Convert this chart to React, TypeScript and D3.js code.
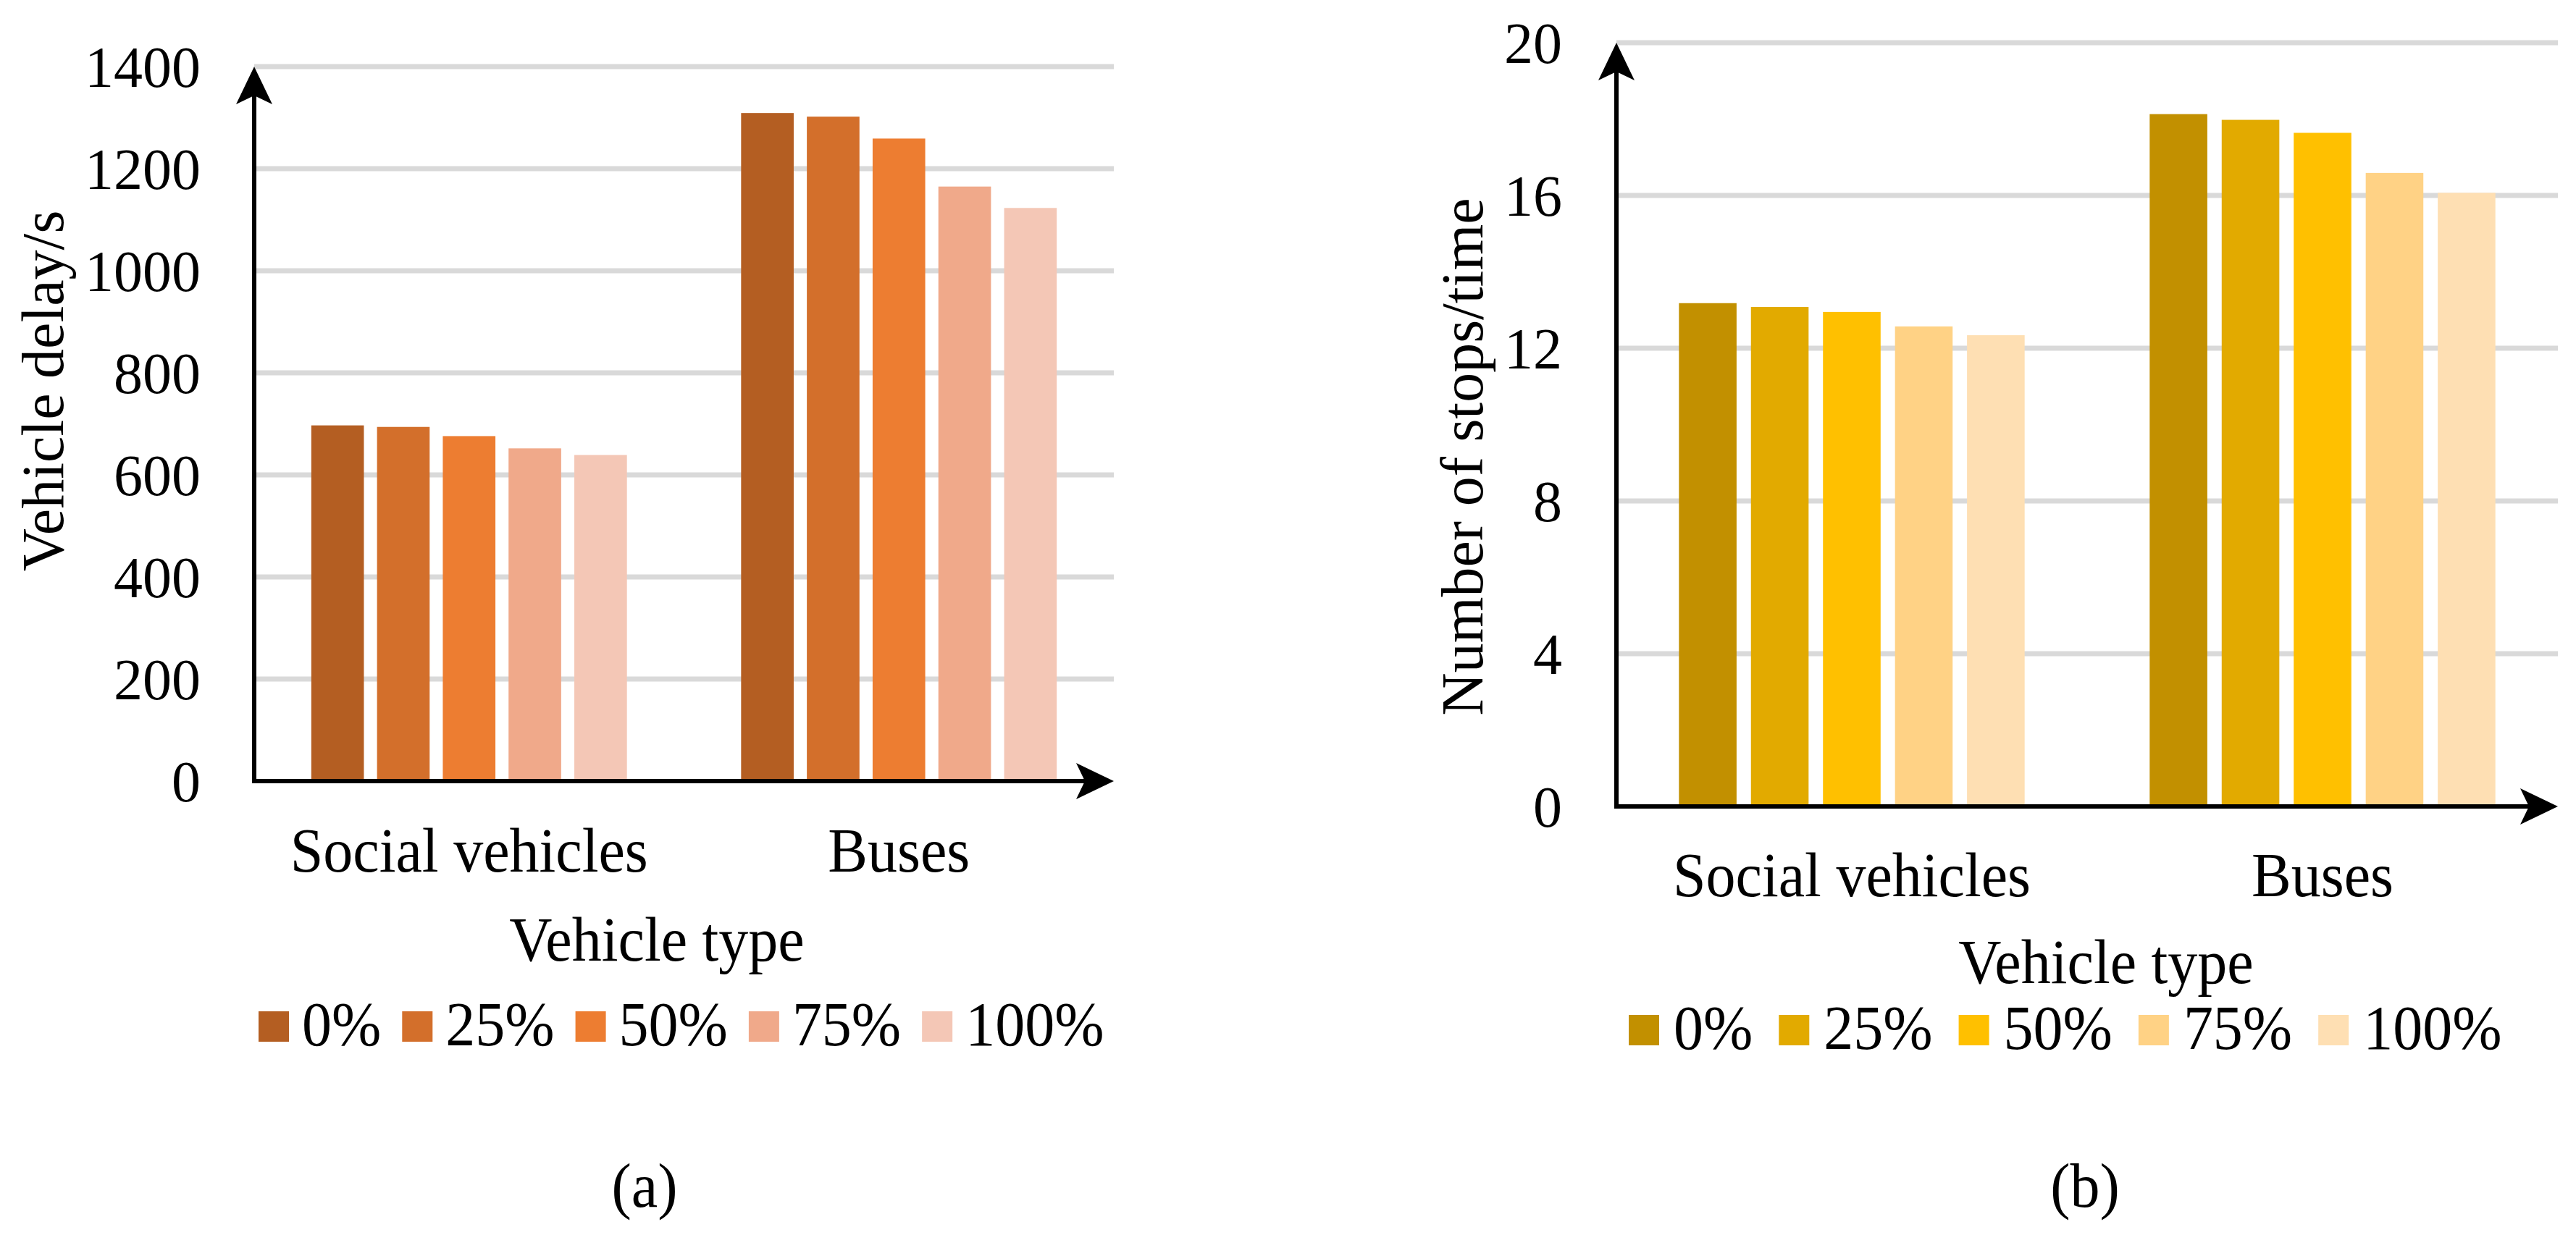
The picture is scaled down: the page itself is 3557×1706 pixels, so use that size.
import React, { useEffect, useRef } from 'react';
import * as d3 from 'd3';

const categories = ['Social vehicles', 'Buses'];
const seriesNames = ['0%', '25%', '50%', '75%', '100%'];

// (a) vehicle delay in s, one value per series
const delaySocial = [697, 694, 676, 652, 639];
const delayBuses = [1309, 1302, 1259, 1165, 1123];
const delayTicks = [0, 200, 400, 600, 800, 1000, 1200, 1400];

// (b) number of stops per vehicle
const stopsSocial = [13.18, 13.08, 12.95, 12.57, 12.34];
const stopsBuses = [18.13, 17.98, 17.64, 16.59, 16.07];
const stopsTicks = [0, 4, 8, 12, 16, 20];

const delayColors = ['#B45E22', '#D36F2B', '#ED7D31', '#F0A98A', '#F4C7B6'];
const stopsColors = ['#C29000', '#E2AA00', '#FFC000', '#FFD285', '#FEDFB3'];

const W = 3557;
const H = 1706;
const FONT = '"Liberation Serif", "Times New Roman", serif';
const FS = 82;
const TICK_FS = 80;
const STRETCH = 1.05; // the source text is a little taller than wide
const GAP = 2.17; // excel-like gap width
const SEP = 0.25; // space between bars, relative to bar width

interface PanelCfg {
  left: number;
  right: number;
  bottom: number;
  top: number;
  ticks: number[];
  rows: number[][];
  colors: string[];
  yTitle: string;
  yTitleX: number;
  yTitleY: number;
  tickPad: number;
  catBaseline: number;
  xTitleX: number;
  xTitleY: number;
  legendX: number;
  legendY: number;
  legendGap: number;
  legendItemGap: number;
  caption: string;
  captionX: number;
  captionY: number;
}

// horizontal text with a slight vertical stretch
function label(g: any, x: number, y: number, s: string, anchor = 'start') {
  return g.append('text')
    .attr('transform', `translate(${x},${y}) scale(1,${STRETCH})`)
    .attr('text-anchor', anchor)
    .attr('font-family', FONT)
    .attr('font-size', FS)
    .text(s);
}

function drawPanel(g: any, cfg: PanelCfg) {
  const { left, right, bottom, top, ticks, rows, colors } = cfg;

  const y = d3.scaleLinear().domain([0, d3.max(ticks) as number]).range([bottom, top]);
  const x0 = d3.scaleBand().domain(categories).range([left, right]);
  const bw = x0.bandwidth() / (seriesNames.length + (seriesNames.length - 1) * SEP + GAP);
  const x1 = d3.scaleBand()
    .domain(seriesNames)
    .range([(GAP * bw) / 2, x0.bandwidth() - (GAP * bw) / 2])
    .paddingInner(SEP / (1 + SEP));

  // gridlines
  g.append('g')
    .selectAll('line')
    .data(ticks.filter(t => t > 0))
    .join('line')
    .attr('x1', left)
    .attr('x2', right)
    .attr('y1', (d: number) => y(d))
    .attr('y2', (d: number) => y(d))
    .attr('stroke', '#D9D9D9')
    .attr('stroke-width', 7);

  // bars
  const rowData = categories.map((c, i) => ({ cat: c, values: rows[i] }));
  g.append('g')
    .selectAll('g')
    .data(rowData)
    .join('g')
    .attr('transform', (d: any) => `translate(${x0(d.cat)},0)`)
    .selectAll('rect')
    .data((d: any) => d.values.map((v: number, k: number) => ({ key: seriesNames[k], v, k })))
    .join('rect')
    .attr('x', (d: any) => x1(d.key))
    .attr('y', (d: any) => y(d.v))
    .attr('width', x1.bandwidth())
    .attr('height', (d: any) => bottom - y(d.v))
    .attr('fill', (d: any) => colors[d.k]);

  // y tick labels
  const yAxis = g.append('g')
    .attr('transform', `translate(${left},0)`)
    .call(d3.axisLeft(y).tickValues(ticks).tickSize(0).tickPadding(cfg.tickPad).tickFormat(d3.format('d')));
  yAxis.select('.domain').remove();
  yAxis.attr('font-family', FONT).attr('font-size', TICK_FS);
  yAxis.selectAll('text').attr('fill', '#000').attr('dy', '0.34em');

  // category labels
  const xAxis = g.append('g')
    .attr('transform', `translate(0,${bottom})`)
    .call(d3.axisBottom(x0).tickSize(0));
  xAxis.select('.domain').remove();
  xAxis.attr('font-family', FONT).attr('font-size', FS);
  xAxis.selectAll('text')
    .attr('fill', '#000')
    .attr('dy', null)
    .attr('y', (cfg.catBaseline - bottom) / STRETCH)
    .attr('transform', `scale(1,${STRETCH})`);

  // axes with arrows
  const arrow = 'M0,0 L-25,52 L0,40 L25,52 Z';
  g.append('line')
    .attr('x1', left).attr('x2', left)
    .attr('y1', bottom + 3).attr('y2', top + 40)
    .attr('stroke', '#000').attr('stroke-width', 6);
  g.append('path')
    .attr('d', arrow)
    .attr('transform', `translate(${left},${top})`)
    .attr('fill', '#000');
  g.append('line')
    .attr('x1', left - 3).attr('x2', right - 40)
    .attr('y1', bottom).attr('y2', bottom)
    .attr('stroke', '#000').attr('stroke-width', 6);
  g.append('path')
    .attr('d', arrow)
    .attr('transform', `translate(${right},${bottom}) rotate(90)`)
    .attr('fill', '#000');

  // titles
  g.append('text')
    .attr('transform', `translate(${cfg.yTitleX},${cfg.yTitleY}) rotate(-90)`)
    .attr('text-anchor', 'middle')
    .attr('font-family', FONT).attr('font-size', FS)
    .text(cfg.yTitle);
  label(g, cfg.xTitleX, cfg.xTitleY, 'Vehicle type', 'middle');

  // legend
  let lx = cfg.legendX;
  seriesNames.forEach((name, k) => {
    g.append('rect')
      .attr('x', lx).attr('y', cfg.legendY - 47)
      .attr('width', 42).attr('height', 42)
      .attr('fill', colors[k]);
    const t = label(g, lx + 42 + cfg.legendGap, cfg.legendY, name);
    const len = (t.node() as SVGTextElement).getComputedTextLength();
    lx += 42 + cfg.legendGap + len + cfg.legendItemGap;
  });

  label(g, cfg.captionX, cfg.captionY, cfg.caption, 'middle');
}

const App: React.FC = () => {
  const ref = useRef<SVGSVGElement>(null);

  useEffect(() => {
    const svg = d3.select(ref.current);
    svg.selectAll('*').remove();
    svg.append('rect').attr('width', W).attr('height', H).attr('fill', '#fff');

    drawPanel(svg.append('g'), {
      left: 351, right: 1538, bottom: 1079, top: 92,
      ticks: delayTicks,
      rows: [delaySocial, delayBuses],
      colors: delayColors,
      yTitle: 'Vehicle delay/s', yTitleX: 87, yTitleY: 540,
      tickPad: 74,
      catBaseline: 1204,
      xTitleX: 907, xTitleY: 1327,
      legendX: 357, legendY: 1444, legendGap: 18, legendItemGap: 29,
      caption: '(a)', captionX: 890, captionY: 1667,
    });

    drawPanel(svg.append('g'), {
      left: 2232, right: 3532, bottom: 1114, top: 59,
      ticks: stopsTicks,
      rows: [stopsSocial, stopsBuses],
      colors: stopsColors,
      yTitle: 'Number of stops/time', yTitleX: 2047, yTitleY: 631,
      tickPad: 75,
      catBaseline: 1238,
      xTitleX: 2908, xTitleY: 1358,
      legendX: 2249, legendY: 1449, legendGap: 20, legendItemGap: 36,
      caption: '(b)', captionX: 2879, captionY: 1667,
    });
  }, []);

  return (
    <svg
      ref={ref}
      width={W}
      height={H}
      style={{ position: 'absolute', left: 0, top: 0, display: 'block' }}
    />
  );
};

export default App;
